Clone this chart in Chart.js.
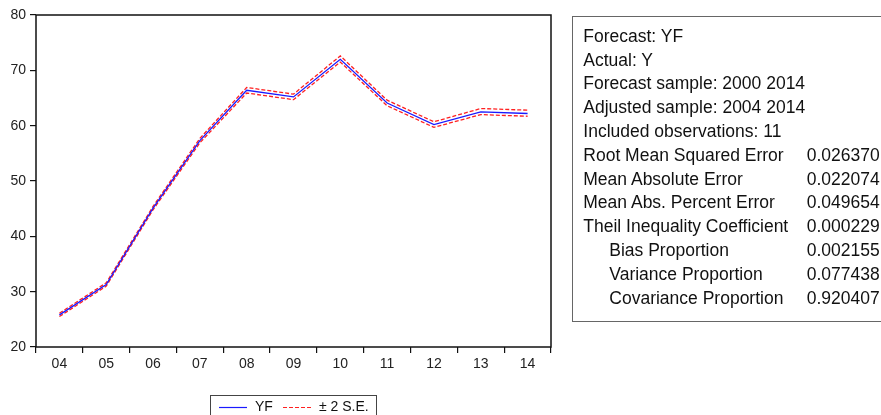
<!DOCTYPE html>
<html>
<head>
<meta charset="utf-8">
<script src="https://cdn.jsdelivr.net/npm/chart.js@4.4.1/dist/chart.umd.min.js"></script>
<style>
  html, body { margin: 0; padding: 0; background: #fff; }
  #wrap { position: relative; width: 881px; height: 415px; overflow: hidden; }
  #c { position: absolute; left: 0; top: 0; }
  #stats {
    position: absolute; left: 572px; top: 16px; width: 340px; height: 306px;
    border: 1px solid #666; box-sizing: border-box;
    font-family: "Liberation Sans", Arial, sans-serif; font-size: 17.5px; color: #111;
    line-height: normal;
  }
  #stats .row, #stats .val { position: absolute; white-space: nowrap; }
</style>
</head>
<body>
<div id="wrap">
  <canvas id="c" width="881" height="415"></canvas>
  <div id="stats"></div>
</div>
<script>
// Years on the x axis (2004-2014)
const years = ['04', '05', '06', '07', '08', '09', '10', '11', '12', '13', '14'];
// Forecast YF
const forecast = [25.8, 31.3, 45.1, 57.3, 66.4, 65.2, 72.0, 64.1, 60.2, 62.5, 62.2];
// Forecast ± 2 standard errors
const upperBand = [26.1, 31.6, 45.4, 57.7, 66.9, 65.7, 72.6, 64.6, 60.7, 63.1, 62.8];
const lowerBand = [25.5, 31.0, 44.8, 56.9, 65.9, 64.7, 71.5, 63.6, 59.7, 62.0, 61.7];
// Y axis ticks
const yTicks = [20, 30, 40, 50, 60, 70, 80];

// Forecast evaluation table
const statLabels = [
  'Forecast: YF', 'Actual: Y', 'Forecast sample: 2000 2014', 'Adjusted sample: 2004 2014',
  'Included observations: 11', 'Root Mean Squared Error', 'Mean Absolute Error',
  'Mean Abs. Percent Error', 'Theil Inequality Coefficient',
  'Bias Proportion', 'Variance Proportion', 'Covariance Proportion'
];
const statValues = ['', '', '', '', '', '0.026370', '0.022074', '0.049654', '0.000229',
  '0.002155', '0.077438', '0.920407'];
const statIndent = [0, 0, 0, 0, 0, 0, 0, 0, 0, 1, 1, 1];

const stats = document.getElementById('stats');
statLabels.forEach((t, i) => {
  const top = 8.7 + i * 23.8;
  const r = document.createElement('div');
  r.className = 'row';
  r.style.top = top + 'px';
  r.style.left = (10.3 + statIndent[i] * 26) + 'px';
  r.textContent = t;
  stats.appendChild(r);
  if (statValues[i]) {
    const v = document.createElement('div');
    v.className = 'val';
    v.style.top = top + 'px';
    v.style.left = '233.7px';
    v.textContent = statValues[i];
    stats.appendChild(v);
  }
});

const FONT = { family: '"Liberation Sans", Arial, sans-serif', size: 14 };

// Frame around the plot area and the legend box below it
const framePlugin = {
  id: 'frame',
  afterDraw(chart) {
    const { ctx, chartArea: a } = chart;
    ctx.save();
    ctx.strokeStyle = '#111';
    ctx.lineWidth = 1.5;
    ctx.strokeRect(a.left, a.top, a.right - a.left, a.bottom - a.top);

    // legend
    ctx.lineWidth = 1;
    ctx.strokeStyle = '#444';
    ctx.strokeRect(210.5, 395.5, 166, 30);
    ctx.font = '14px "Liberation Sans", Arial, sans-serif';
    ctx.fillStyle = '#111';
    ctx.textBaseline = 'middle';
    const ly = 407.5;
    const ds = chart.data.datasets;
    ctx.strokeStyle = ds[0].borderColor;
    ctx.lineWidth = 1.2;
    ctx.setLineDash([]);
    ctx.beginPath(); ctx.moveTo(219, ly); ctx.lineTo(247, ly); ctx.stroke();
    ctx.fillText(ds[0].label, 255, ly);
    ctx.strokeStyle = ds[1].borderColor;
    ctx.setLineDash(ds[1].borderDash);
    ctx.beginPath(); ctx.moveTo(283, ly); ctx.lineTo(311, ly); ctx.stroke();
    ctx.setLineDash([]);
    ctx.fillText(ds[1].label, 319, ly);
    ctx.restore();
  }
};

new Chart(document.getElementById('c'), {
  type: 'line',
  data: {
    labels: years,
    datasets: [
      { label: 'YF', data: forecast, borderColor: '#1a1aff', borderWidth: 1.3,
        pointRadius: 0, tension: 0, fill: false },
      { label: '± 2 S.E.', data: upperBand, borderColor: '#ff2020', borderWidth: 1.3,
        borderDash: [4, 2], pointRadius: 0, tension: 0, fill: false },
      { label: '± 2 S.E. (lower)', data: lowerBand, borderColor: '#ff2020', borderWidth: 1.3,
        borderDash: [4, 2], pointRadius: 0, tension: 0, fill: false }
    ]
  },
  options: {
    responsive: false,
    animation: false,
    layout: { padding: { top: 15, right: 330, left: 0, bottom: 0 } },
    plugins: { legend: { display: false }, tooltip: { enabled: false } },
    scales: {
      x: {
        type: 'category',
        offset: true,
        border: { display: false },
        grid: { offset: true, drawOnChartArea: false, color: '#111', tickLength: 6, lineWidth: 1.2 },
        ticks: { font: FONT, color: '#222', padding: 3, maxRotation: 0, autoSkip: false },
        afterFit(s) { s.height = 68; }
      },
      y: {
        min: 20, max: 80,
        border: { display: false },
        afterBuildTicks(s) { s.ticks = yTicks.map(v => ({ value: v })); },
        grid: { drawOnChartArea: false, color: '#111', tickLength: 6, lineWidth: 1.2 },
        ticks: { font: FONT, color: '#222', padding: 4 },
        afterFit(s) { s.width = 36; }
      }
    }
  },
  plugins: [framePlugin]
});
</script>
</body>
</html>
